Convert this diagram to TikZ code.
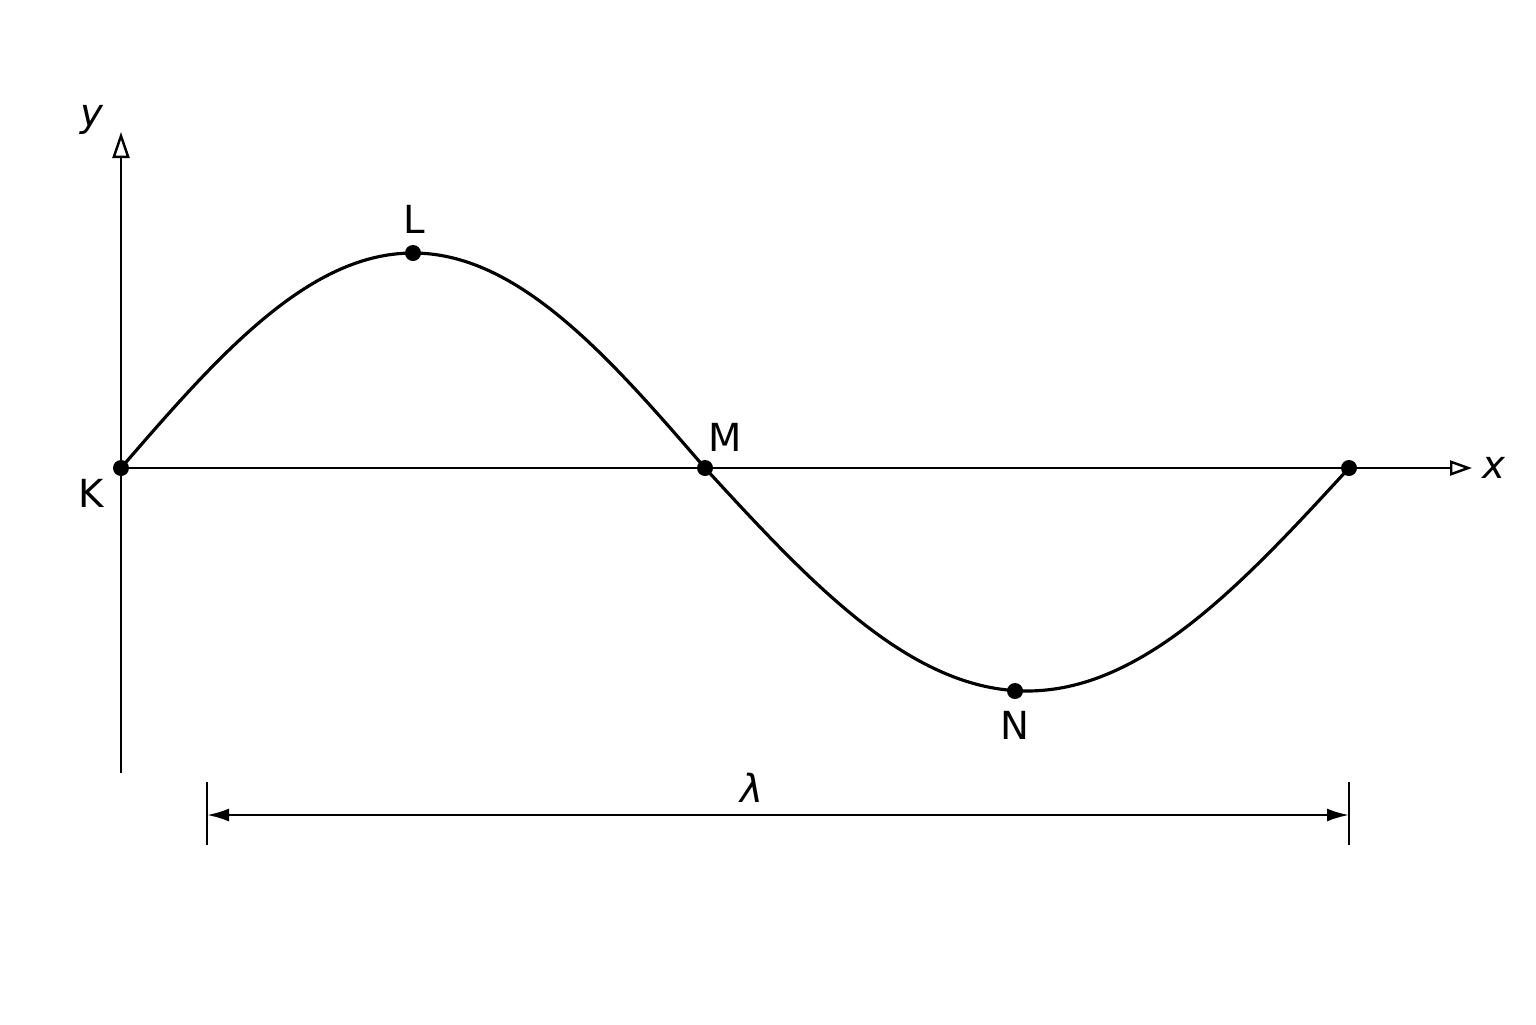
\documentclass[tikz,border=0pt]{standalone}
\usepackage{fontspec}
\setmainfont{DejaVu Sans}
\usetikzlibrary{arrows.meta}
\tikzset{
  axisarrow/.style={line width=0.7pt, -{Triangle[open, length=0.22cm, width=0.15cm]}},
  dimarrow/.style={line width=0.7pt, {Latex[length=0.22cm, width=0.13cm]}-{Latex[length=0.22cm, width=0.13cm]}},
  wavedot/.style={circle, fill=black, inner sep=0pt, minimum size=0.16cm},
  lbl/.style={font=\fontsize{11}{13}\selectfont}
}
\begin{document}
\begin{tikzpicture}
\useasboundingbox (-1.21,-5.56) rectangle (14.15,4.68);
%画x和y轴坐标
\coordinate (ybot) at (0,-3.05);
\coordinate (ytop) at (0,3.36);
\coordinate (xleft) at (0,0);
\coordinate (xright) at (13.51,0);
\draw[axisarrow, -{Triangle[open, length=0.26cm, width=0.17cm]}] (ybot)--(ytop);
\draw[axisarrow] (xleft)--(xright);
\node[lbl] (ylbl) at (-0.29,3.48) {\itshape y};
\node[lbl] (xlbl) at (13.73,0) {\itshape x};
%画波形
\draw[line width=0.9pt,domain=0:5.84,smooth,samples=60] plot(\x,{2.15*sin(180*\x/5.84)});
\draw[line width=0.9pt,domain=5.84:12.28,smooth,samples=60] plot(\x,{-2.23*sin(180*(\x-5.84)/6.44)});
\node[wavedot] (K) at (0,0) {};
\node[wavedot] (L) at (2.92,2.15) {};
\node[wavedot] (M) at (5.84,0) {};
\node[wavedot] (N) at (8.94,-2.23) {};
\node[wavedot] (E) at (12.28,0) {};
\node[lbl] at (-0.30,-0.25) {K};
\node[lbl] at (2.93,2.49) {L};
\node[lbl] at (6.04,0.31) {M};
\node[lbl] at (8.94,-2.57) {N};
%波长标注
\coordinate (dl) at (0.86,-3.47);
\coordinate (dr) at (12.28,-3.47);
\draw[line width=0.75pt] (0.86,-3.14)--(0.86,-3.77);
\draw[line width=0.75pt] (12.28,-3.14)--(12.28,-3.77);
\draw[dimarrow] (dl)--(dr);
\node[lbl] (lam) at (6.31,-3.2) {\itshape λ};
\end{tikzpicture}
\end{document}
